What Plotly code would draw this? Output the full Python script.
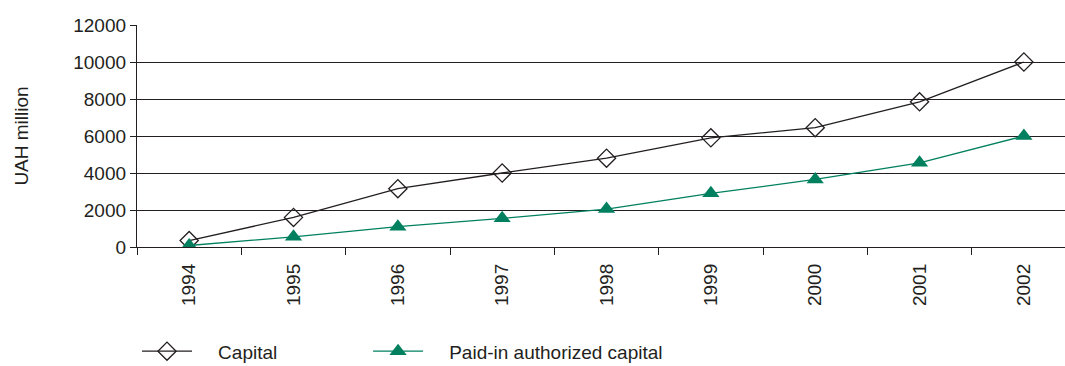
import plotly.graph_objects as go

years = ["1994", "1995", "1996", "1997", "1998", "1999", "2000", "2001", "2002"]
capital = [350, 1600, 3150, 4000, 4800, 5900, 6450, 7850, 10000]
paid_in = [80, 550, 1100, 1550, 2050, 2900, 3650, 4550, 6000]
y_ticks = [0, 2000, 4000, 6000, 8000, 10000, 12000]

ink = "#231f20"
green = "#00805f"
font_family = "Liberation Sans, Arial, sans-serif"
pad = "\u00a0" * 4

fig = go.Figure()
fig.add_trace(go.Scatter(
    x=years, y=capital, name=pad + "Capital", mode="lines+markers",
    line=dict(color=ink, width=1.3),
    marker=dict(symbol="diamond-open", size=14, color=ink, line=dict(width=1.3)),
    legend="legend",
))
fig.add_trace(go.Scatter(
    x=years, y=paid_in, name=pad + "Paid-in authorized capital", mode="lines+markers",
    line=dict(color=green, width=1.3),
    marker=dict(symbol="triangle-up", size=15, color=green),
    legend="legend2",
))

legend_style = dict(
    orientation="h", xanchor="left", y=-0.47, yanchor="middle",
    font=dict(size=19, color=ink), itemwidth=50, bgcolor="rgba(0,0,0,0)",
)

fig.update_layout(
    width=1065, height=366,
    margin=dict(l=137, r=0, t=25, b=119, autoexpand=False),
    paper_bgcolor="white", plot_bgcolor="white",
    font=dict(family=font_family, size=19, color=ink),
    showlegend=True,
    legend=dict(x=0.0, **legend_style),
    legend2=dict(x=0.249, **legend_style),
    xaxis=dict(
        type="category", range=[-0.5, 8.394], automargin=False,
        showgrid=False, showline=True, linecolor=ink, linewidth=1.3,
        ticks="outside", tickson="boundaries", ticklen=7, tickcolor=ink, tickwidth=1.3,
        tickangle=-90, tickfont=dict(size=19, color=ink), ticklabelstandoff=8,
    ),
    yaxis=dict(
        range=[0, 12000], tickvals=y_ticks, tickformat="d", automargin=False,
        showgrid=True, gridcolor=ink, gridwidth=1,
        showline=True, linecolor=ink, linewidth=1.3,
        ticks="outside", ticklen=6, tickcolor=ink, tickwidth=1.3,
        tickfont=dict(size=19, color=ink), zeroline=False,
        title=dict(text="UAH million", font=dict(size=19, color=ink), standoff=39),
    ),
)

fig.write_html("out.html")
